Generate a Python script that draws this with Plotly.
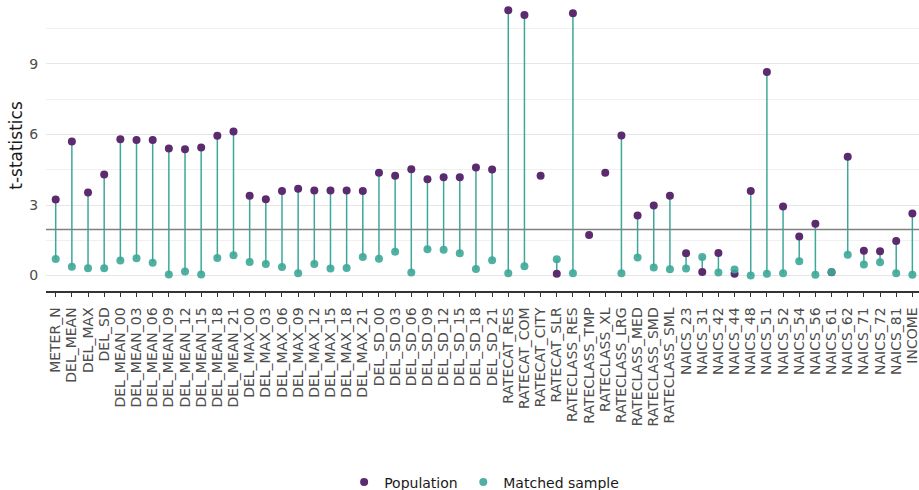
import plotly.graph_objects as go

categories = [
    "METER_N", "DEL_MEAN", "DEL_MAX", "DEL_SD",
    "DEL_MEAN_00", "DEL_MEAN_03", "DEL_MEAN_06", "DEL_MEAN_09",
    "DEL_MEAN_12", "DEL_MEAN_15", "DEL_MEAN_18", "DEL_MEAN_21",
    "DEL_MAX_00", "DEL_MAX_03", "DEL_MAX_06", "DEL_MAX_09",
    "DEL_MAX_12", "DEL_MAX_15", "DEL_MAX_18", "DEL_MAX_21",
    "DEL_SD_00", "DEL_SD_03", "DEL_SD_06", "DEL_SD_09",
    "DEL_SD_12", "DEL_SD_15", "DEL_SD_18", "DEL_SD_21",
    "RATECAT_RES", "RATECAT_COM", "RATECAT_CITY", "RATECAT_SLR",
    "RATECLASS_RES", "RATECLASS_TMP", "RATECLASS_XL", "RATECLASS_LRG",
    "RATECLASS_MED", "RATECLASS_SMD", "RATECLASS_SML",
    "NAICS_23", "NAICS_31", "NAICS_42", "NAICS_44", "NAICS_48",
    "NAICS_51", "NAICS_52", "NAICS_54", "NAICS_56", "NAICS_61",
    "NAICS_62", "NAICS_71", "NAICS_72", "NAICS_81", "INCOME",
]

population = [
    3.23, 5.70, 3.53, 4.30,
    5.80, 5.76, 5.76, 5.40, 5.37, 5.45, 5.94, 6.13,
    3.39, 3.25, 3.60, 3.69, 3.62, 3.62, 3.62, 3.60,
    4.37, 4.24, 4.52, 4.10, 4.18, 4.18, 4.59, 4.51,
    11.28, 11.08, 4.24, 0.08,
    11.15, 1.73, 4.37, 5.96, 2.55, 2.98, 3.39,
    0.95, 0.15, 0.96, 0.08, 3.60, 8.65, 2.94, 1.66, 2.20, 0.14,
    5.05, 1.06, 1.03, 1.47, 2.64,
]

matched = [
    0.71, 0.38, 0.31, 0.31,
    0.64, 0.74, 0.55, 0.05, 0.17, 0.05, 0.75, 0.86,
    0.58, 0.49, 0.37, 0.10, 0.49, 0.30, 0.32, 0.79,
    0.72, 1.01, 0.13, 1.12, 1.10, 0.95, 0.28, 0.65,
    0.10, 0.40, None, 0.69,
    0.10, None, None, 0.10, 0.77, 0.34, 0.27,
    0.30, 0.79, 0.13, 0.26, 0.00, 0.08, 0.10, 0.61, 0.04, 0.15,
    0.89, 0.47, 0.57, 0.10, 0.04,
]

critical_value = 1.96

PURPLE = "#5c2a6e"
TEAL = "#3ea898"

# segments joining population and matched values
seg_x, seg_y = [], []
for c, p, m in zip(categories, population, matched):
    if p is not None and m is not None:
        seg_x += [c, c, None]
        seg_y += [p, m, None]

fig = go.Figure()
fig.add_trace(go.Scatter(
    x=seg_x, y=seg_y, mode="lines",
    line=dict(color=TEAL, width=1.5),
    showlegend=False, hoverinfo="skip",
))
fig.add_trace(go.Scatter(
    x=categories, y=population, mode="markers", name="Population",
    marker=dict(color=PURPLE, size=8), legend="legend", cliponaxis=False,
))
fig.add_trace(go.Scatter(
    x=categories, y=matched, mode="markers", name="Matched sample",
    marker=dict(color=TEAL, size=8), opacity=0.9, legend="legend2",
    cliponaxis=False,
))

fig.add_hline(y=critical_value, line=dict(color="#808080", width=1.5))

legend_common = dict(
    orientation="h", xanchor="left", y=-0.658, yanchor="middle",
    font=dict(size=14, color="#1a1a1a"), bgcolor="rgba(0,0,0,0)",
)

fig.update_layout(
    width=919, height=490,
    margin=dict(l=46, r=0, t=0, b=199, autoexpand=False),
    paper_bgcolor="white", plot_bgcolor="white",
    font=dict(family="DejaVu Sans", color="#4d4d4d"),
    showlegend=True,
    legend=dict(x=0.3415, **legend_common),
    legend2=dict(x=0.478, **legend_common),
    xaxis=dict(
        type="category", categoryorder="array", categoryarray=categories,
        range=[-0.6, 53.41], automargin=False,
        tickmode="linear", tick0=0, dtick=1,
        showgrid=False, zeroline=False,
        showline=True, linecolor="#333333", linewidth=1.5,
        ticks="outside", ticklen=4, tickcolor="#333333", tickwidth=1,
        ticklabelstandoff=5,
        tickangle=-90, tickfont=dict(size=14, color="#4d4d4d"),
    ),
    yaxis=dict(
        range=[-0.655, 11.715], automargin=False,
        tickvals=[0, 3, 6, 9],
        showgrid=True, gridcolor="#e6e6e6", gridwidth=1.3,
        zeroline=False, showline=False,
        ticks="outside", ticklen=4, tickcolor="rgba(0,0,0,0)",
        tickfont=dict(size=14, color="#4d4d4d"),
        minor=dict(tickvals=[1.5, 4.5, 7.5, 10.5], showgrid=True,
                   gridcolor="#f0f0f0", gridwidth=0.9),
        title=dict(text="t-statistics", font=dict(size=17, color="#1a1a1a"),
                   standoff=2),
    ),
)

fig.write_html(
    "out.html",
    config={"displayModeBar": False},
    post_script="document.body.style.margin='0';document.body.style.overflow='hidden';",
)
